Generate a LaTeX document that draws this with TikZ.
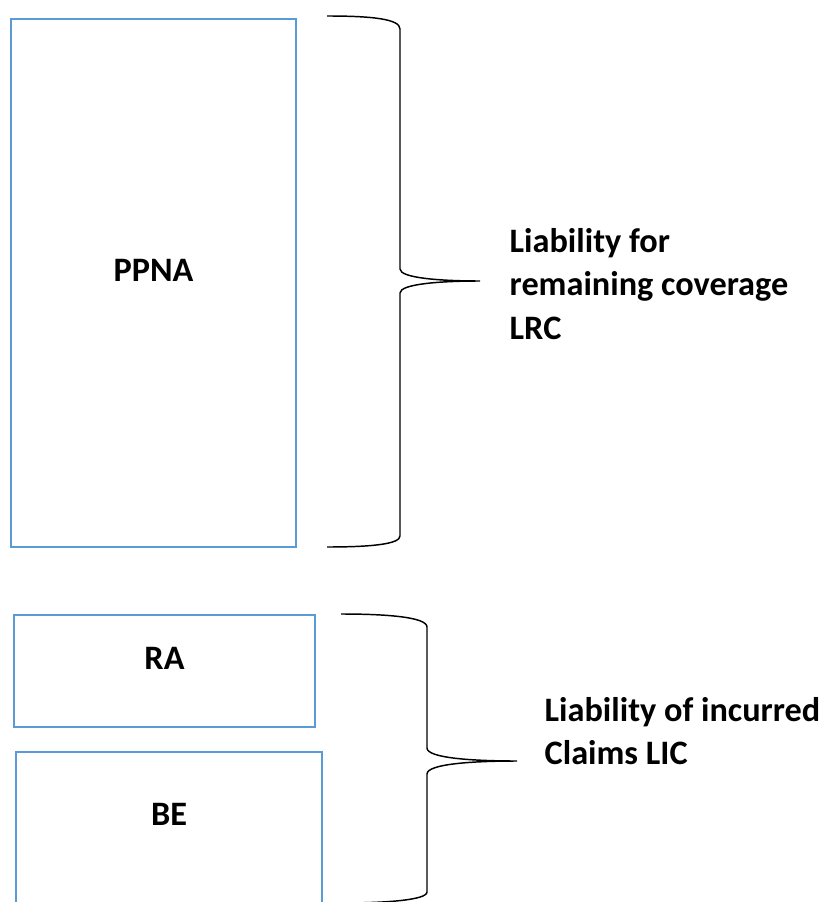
\documentclass[tikz,border=0pt]{standalone}
\usepackage{fontspec}
\setmainfont{Carlito}
\usetikzlibrary{calc,positioning}
\definecolor{boxblue}{RGB}{91,155,213}

\begin{document}
\begin{tikzpicture}[x=0.75pt,y=-0.75pt,every node/.style={align=left,font=\fontsize{25.7}{32.6}\selectfont\bfseries},box/.style={draw=boxblue,line width=0.9pt,inner sep=0pt},brace/.style={draw=black,line width=1.1pt}]
\useasboundingbox (0,0) rectangle (821,902);
\node [box,minimum width=213.75pt,minimum height=396pt] (PPNA) at (153.5,283) {};
\node [box,minimum width=225.75pt,minimum height=84pt] (RA) at (164.5,671) {};
\node [box,minimum width=229.5pt,minimum height=118.5pt] (BE) at (169,831) {};
\node (PPNAText) at ($(PPNA.north)+(0,252)$) {PPNA};
\node (RAText) at ($(RA.north)+(0,44)$) {RA};
\node (BEText) at ($(BE.north)+(0,63)$) {BE};
\coordinate (LRCTip) at (480,281);
\coordinate (LICTip) at (517,761);
\node [anchor=west] (LRC) at ($(LRCTip)+(25,3)$) {Liability for\\remaining coverage\\LRC};
\node [anchor=west] (LIC) at ($(LICTip)+(23,-30)$) {Liability of incurred\\Claims LIC};
\draw [brace] (327,16) .. controls (372,16) and (400,19) .. (400,29) -- ($(LRCTip)+(-80,-12)$) .. controls ($(LRCTip)+(-80,-3)$) and ($(LRCTip)+(-40,0)$) .. (LRCTip) .. controls ($(LRCTip)+(-40,0)$) and ($(LRCTip)+(-80,3)$) .. ($(LRCTip)+(-80,12)$) -- (400,536) .. controls (400,544) and (372,547) .. (327,547);
\draw [brace] (341,614) .. controls (386,614) and (427,617) .. (427,627) -- ($(LICTip)+(-90,-13)$) .. controls ($(LICTip)+(-90,-3)$) and ($(LICTip)+(-45,0)$) .. (LICTip) .. controls ($(LICTip)+(-45,0)$) and ($(LICTip)+(-90,3)$) .. ($(LICTip)+(-90,13)$) -- (427,892) .. controls (427,900) and (386,903) .. (341,903);
\end{tikzpicture}
\end{document}
